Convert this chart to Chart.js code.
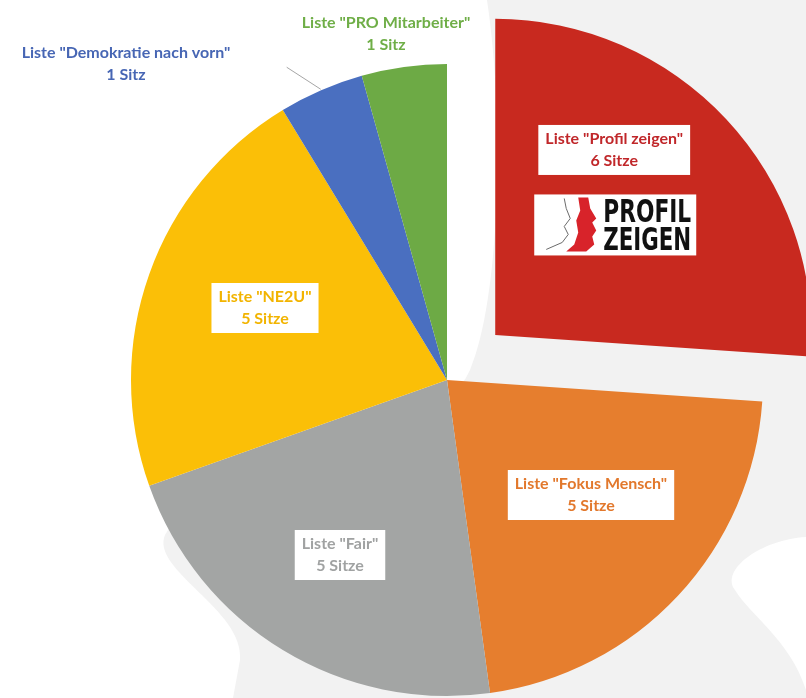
<!DOCTYPE html>
<html lang="de">
<head>
<meta charset="utf-8">
<title>Sitzverteilung</title>
<script src="https://cdn.jsdelivr.net/npm/chart.js@4.4.1/dist/chart.umd.min.js"></script>
<style>
  html, body { margin: 0; padding: 0; background: #f2f2f2; overflow: hidden; }
  #wrap { width: 806px; height: 698px; }
</style>
</head>
<body>
<div id="wrap"><canvas id="sitze-chart" width="806" height="698"></canvas></div>
<script>
// Daten
const listen = ['Liste "Profil zeigen"', 'Liste "Fokus Mensch"', 'Liste "Fair"', 'Liste "NE2U"', 'Liste "Demokratie nach vorn"', 'Liste "PRO Mitarbeiter"'];
const sitze = [6, 5, 5, 5, 1, 1];

// Stil
const farben = ['#c8291f', '#e67e2e', '#a3a5a4', '#fbbf07', '#4a6fc0', '#6daa45'];
const textFarben = ['#c0272a', '#e2782c', '#a0a2a2', '#f2b400', '#4766b4', '#6fae47'];
const explodiert = [264, 0, 0, 0, 0, 0];
// Lage der Beschriftung relativ zur Segmentmitte (Pixel)
const labelLage = [[119, -185], [144, 115], [-107, 175], [-182, -72], [-321, -316], [-61, -346]];
const mitKasten = [true, true, true, true, false, false];
const schrift = 'bold 16px Lato';

const sitzText = n => n === 1 ? `${n} Sitz` : `${n} Sitze`;

// Hintergrund mit den hellen Flächen
const hintergrund = {
    id: "hintergrund",
    beforeDraw(chart) {
        const ctx = chart.ctx;
        ctx.save();
        ctx.fillStyle = "#f2f2f2";
        ctx.fillRect(0, 0, chart.width, chart.height);
        ctx.fillStyle = "#ffffff";
        ctx.beginPath();
        ctx.moveTo(0, 0);
        ctx.lineTo(487, 0);
        ctx.bezierCurveTo(505, 120, 500, 300, 470, 370);
        ctx.bezierCurveTo(430, 460, 200, 470, 165, 535);
        ctx.bezierCurveTo(150, 570, 245, 610, 240, 660);
        ctx.lineTo(233, 698);
        ctx.lineTo(0, 698);
        ctx.closePath();
        ctx.fill();
        ctx.beginPath();
        ctx.moveTo(806, 537);
        ctx.bezierCurveTo(760, 540, 720, 570, 735, 590);
        ctx.bezierCurveTo(750, 615, 790, 640, 806, 690);
        ctx.lineTo(806, 698);
        ctx.closePath();
        ctx.fill();
        ctx.restore();
    }
};

const zeichneLogo = (ctx, cx, cy) => {
    const w = 162, h = 61;
    const x0 = cx - w / 2, y0 = cy - h / 2;
    ctx.fillStyle = "#ffffff";
    ctx.fillRect(x0, y0, w, h);
    // Profil-Silhouette
    ctx.fillStyle = "#d8232a";
    ctx.beginPath();
    ctx.moveTo(x0 + 44, y0 + 3);
    ctx.lineTo(x0 + 54, y0 + 3);
    ctx.lineTo(x0 + 56, y0 + 14);
    ctx.lineTo(x0 + 62, y0 + 24);
    ctx.lineTo(x0 + 58, y0 + 28);
    ctx.lineTo(x0 + 62, y0 + 36);
    ctx.lineTo(x0 + 58, y0 + 42);
    ctx.lineTo(x0 + 60, y0 + 50);
    ctx.lineTo(x0 + 52, y0 + 57);
    ctx.lineTo(x0 + 32, y0 + 57);
    ctx.lineTo(x0 + 40, y0 + 50);
    ctx.lineTo(x0 + 44, y0 + 38);
    ctx.lineTo(x0 + 42, y0 + 26);
    ctx.lineTo(x0 + 46, y0 + 16);
    ctx.closePath();
    ctx.fill();
    ctx.strokeStyle = "#6b6b6b";
    ctx.lineWidth = 1;
    ctx.beginPath();
    ctx.moveTo(x0 + 30, y0 + 4);
    ctx.lineTo(x0 + 32, y0 + 14);
    ctx.lineTo(x0 + 36, y0 + 24);
    ctx.lineTo(x0 + 30, y0 + 32);
    ctx.lineTo(x0 + 34, y0 + 40);
    ctx.lineTo(x0 + 28, y0 + 48);
    ctx.lineTo(x0 + 12, y0 + 55);
    ctx.stroke();
    // Schriftzug
    ctx.fillStyle = "#111111";
    ctx.font = "bold 32px 'DejaVu Sans'";
    ctx.textAlign = "left";
    ctx.textBaseline = "alphabetic";
    ["PROFIL", "ZEIGEN"].forEach((wort, i) => {
        const breite = ctx.measureText(wort).width;
        ctx.save();
        ctx.translate(x0 + 69, y0 + 28 + i * 28);
        ctx.scale(88 / breite, 1);
        ctx.fillText(wort, 0, 0);
        ctx.restore();
    });
};

// Beschriftungen und Logo
const beschriftung = {
    id: "beschriftung",
    afterDatasetsDraw(chart) {
        const ctx = chart.ctx;
        const meta = chart.getDatasetMeta(0);
        ctx.save();
        meta.data.forEach((arc, i) => {
            const mitte = (arc.startAngle + arc.endAngle) / 2;
            const versatz = (arc.options.offset || 0) / 4;
            const mx = arc.x + Math.cos(mitte) * versatz;
            const my = arc.y + Math.sin(mitte) * versatz;
            const lx = mx + labelLage[i][0];
            const ly = my + labelLage[i][1];
            const zeilen = [listen[i], sitzText(sitze[i])];
            ctx.font = schrift;
            if (mitKasten[i]) {
                const bw = ctx.measureText(zeilen[0]).width + 14;
                ctx.fillStyle = "#ffffff";
                ctx.fillRect(lx - bw / 2, ly - 25, bw, 50);
            } else if (i === 4) {
                // Führungslinie
                const r = arc.outerRadius + 1;
                const sx = arc.x + Math.cos(mitte) * r;
                const sy = arc.y + Math.sin(mitte) * r;
                ctx.strokeStyle = "#a6a6a6";
                ctx.lineWidth = 1;
                ctx.beginPath();
                ctx.moveTo(sx, sy);
                ctx.lineTo(sx - 34, sy - 22);
                ctx.stroke();
            }
            ctx.fillStyle = textFarben[i];
            ctx.textAlign = "center";
            ctx.textBaseline = "middle";
            ctx.fillText(zeilen[0], lx, ly - 11);
            ctx.fillText(zeilen[1], lx, ly + 11);
            if (i === 0) {
                zeichneLogo(ctx, lx + 1, ly + 75);
            }
        });
        ctx.restore();
    }
};

new Chart(document.getElementById("sitze-chart"), {
    type: "pie",
    data: {
        labels: listen,
        datasets: [{
            data: sitze,
            backgroundColor: farben,
            borderWidth: 0,
            offset: explodiert,
            hoverOffset: 0
        }]
    },
    options: {
        responsive: false,
        animation: false,
        radius: 316,
        layout: { padding: { left: 88, top: 62, right: 0, bottom: 0 } },
        plugins: {
            legend: { display: false },
            tooltip: { enabled: false }
        }
    },
    plugins: [hintergrund, beschriftung]
});
</script>
</body>
</html>
